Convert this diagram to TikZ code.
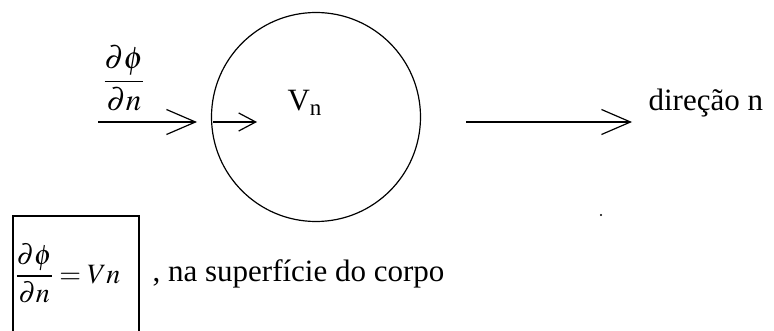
\documentclass[tikz,border=0pt]{standalone}
\usepackage{amsmath}
\usepackage{mathptmx}
\usepackage{fontspec}
\setmainfont{Liberation Serif}
\usetikzlibrary{positioning,arrows.meta}

\begin{document}
\begin{tikzpicture}[
  x=1pt, y=-1pt,
  font=\fontsize{31}{36}\selectfont,
  line width=1.2pt,
  flow/.style={-{Straight Barb[length=29pt,width=25pt,line width=1.2pt]}},
  short/.style={-{Straight Barb[length=17pt,width=18pt,line width=1.2pt]}},
  lab/.style={inner sep=0pt},
]
\useasboundingbox (0,0) rectangle (774,331);

% ---- Body: the circle and its normal velocity ------------------------------
\node[draw, circle, minimum size=209pt, inner sep=0pt] (body) at (316,117) {};
\node[lab, anchor=base west] (vn) at (287,111) {V\textsubscript{n}};
\coordinate (vnA) at (213,122);
\coordinate (vnB) at (257,122);
\draw[short] (vnA) -- (vnB);

% ---- Incoming gradient ------------------------------------------------------
\node[lab] (dphi) at (124,78) {$\displaystyle\frac{\partial\phi}{\partial n}$};
\coordinate (inA) at (98,122);
\coordinate (inB) at (197,122);
\draw[flow] (inA) -- (inB);

% ---- Direction n ------------------------------------------------------------
\coordinate (dirA) at (466,122);
\coordinate (dirB) at (632,122);
\draw[flow] (dirA) -- (dirB);
\node[lab, anchor=base west] (dir) at (648,111) {direção n};
\fill (601,215) circle (1.2pt);

% ---- Boundary condition -----------------------------------------------------
\node[draw, line width=1.6pt, anchor=north west, minimum width=126pt,
  minimum height=140pt] (eqbox) at (12,215) {};
\node[lab, anchor=west, font=\fontsize{28}{33}\selectfont] (eq) at (15,273)
  {$\displaystyle\frac{\partial\phi}{\partial n}=Vn$};
\node[lab, anchor=base west] (note) at (152,281) {, na superfície do corpo};

\end{tikzpicture}
\end{document}
